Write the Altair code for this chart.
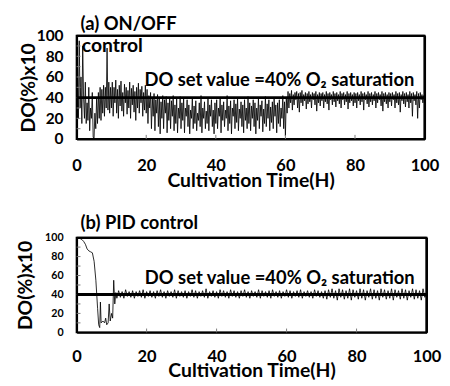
import altair as alt
import pandas as pd

# ---- Panel (a): ON/OFF control, DO readings every 0.25 h from 0 to 100 h ----
a_step = 0.25
a_values = [
    # 0-10 h
    40, 70, 20, 95, 30, 60, 15, 90, 40, 20, 55, 15, 35, 18, 50, 8, 30, 20, 45, 2,
    0, 25, 10, 40, 15, 45, 20, 50, 18, 48, 25, 52, 22, 50, 30, 88, 28, 55, 25, 50,
    # 10-20 h
    30, 55, 22, 50, 35, 57, 25, 48, 20, 52, 32, 56, 27, 45, 22, 53, 35, 50, 24, 47,
    30, 55, 20, 49, 33, 52, 26, 46, 18, 50, 30, 54, 25, 48, 35, 51, 22, 45, 28, 52,
    # 20-30 h
    25, 48, 15, 42, 30, 45, 10, 40, 22, 44, 8, 38, 25, 43, 12, 40, 5, 36, 20, 42,
    10, 38, 25, 41, 6, 35, 18, 40, 10, 37, 22, 42, 8, 33, 15, 39, 6, 30, 20, 41,
    # 30-40 h
    10, 35, 18, 40, 6, 30, 22, 38, 12, 33, 5, 28, 20, 40, 10, 32, 15, 37, 8, 25,
    18, 35, 12, 42, 6, 30, 20, 36, 10, 27, 15, 39, 8, 33, 22, 38, 12, 28, 5, 35,
    # 40-50 h
    15, 38, 10, 30, 22, 40, 6, 33, 18, 36, 12, 28, 20, 42, 8, 32, 15, 37, 5, 30,
    22, 38, 10, 34, 16, 40, 8, 29, 20, 36, 12, 33, 6, 38, 18, 30, 10, 41, 15, 35,
    # 50-60 h
    8, 32, 20, 38, 12, 35, 5, 30, 18, 40, 10, 33, 22, 37, 7, 29, 15, 41, 12, 34,
    20, 38, 8, 31, 16, 36, 10, 40, 22, 33, 6, 35, 15, 38, 12, 30, 20, 42, 10, 36,
    # 60-70 h
    3, 40, 25, 46, 30, 44, 35, 47, 28, 43, 33, 45, 38, 46, 30, 44, 26, 45, 35, 47,
    32, 43, 37, 45, 29, 44, 34, 46, 36, 43, 30, 45, 38, 44, 33, 46, 27, 43, 35, 45,
    # 70-80 h
    32, 44, 37, 45, 30, 43, 36, 46, 34, 44, 28, 45, 38, 43, 33, 46, 36, 44, 31, 45,
    37, 43, 34, 46, 30, 44, 38, 45, 33, 43, 36, 46, 29, 44, 35, 45, 37, 43, 32, 45,
    # 80-90 h
    35, 44, 30, 45, 37, 43, 33, 46, 36, 44, 28, 45, 38, 43, 34, 46, 31, 44, 36, 45,
    33, 43, 37, 46, 30, 44, 35, 45, 38, 43, 32, 46, 27, 44, 36, 45, 34, 43, 30, 45,
    # 90-100 h
    36, 44, 32, 45, 38, 43, 30, 46, 35, 44, 33, 45, 26, 43, 37, 46, 34, 44, 31, 45,
    36, 43, 30, 46, 35, 44, 22, 45, 37, 43, 33, 46, 20, 44, 30, 45, 38, 43, 35, 42,
    40,
]

# ---- Panel (b): PID control ----
b_early_t = [0, 0.5, 1, 1.5, 2, 2.5, 3, 3.5, 4, 4.5, 5, 5.5, 6, 6.3, 6.6, 6.8, 7.0,
             7.5, 8, 8.3, 8.6, 9, 9.3, 9.6, 10, 10.3, 10.6, 10.9, 11.2]
b_early_v = [100, 99.5, 99, 98, 96, 93, 88, 86, 85, 84, 75, 55, 25, 8, 5, 32, 10,
             12, 10, 15, 8, 10, 30, 12, 20, 15, 55, 30, 42]
b_late_start = 11.5
b_late_v = [
    # 11.5-21.5 h
    36, 44, 37, 43, 36, 45, 38, 43, 37, 44, 36, 43, 38, 44, 37, 45, 36, 43, 38, 44,
    # 21.5-31.5 h
    37, 43, 36, 44, 38, 45, 37, 43, 36, 44, 38, 43, 37, 45, 36, 44, 38, 43, 37, 44,
    # 31.5-41.5 h
    36, 43, 38, 45, 37, 44, 36, 43, 38, 44, 37, 46, 36, 43, 38, 44, 37, 43, 36, 45,
    # 41.5-51.5 h
    38, 44, 37, 43, 36, 45, 38, 44, 37, 43, 36, 44, 38, 45, 37, 43, 36, 44, 38, 43,
    # 51.5-61.5 h
    37, 45, 36, 44, 38, 43, 37, 44, 36, 45, 38, 43, 37, 44, 36, 43, 38, 45, 37, 44,
    # 61.5-71.5 h
    36, 43, 38, 44, 37, 45, 36, 43, 38, 44, 37, 43, 36, 45, 38, 44, 37, 43, 36, 44,
    # 71.5-81.5 h
    35, 45, 37, 46, 36, 44, 34, 46, 37, 45, 35, 44, 36, 46, 34, 45, 37, 44, 35, 46,
    # 81.5-91.5 h
    36, 45, 34, 44, 37, 46, 35, 45, 36, 44, 34, 46, 37, 45, 35, 44, 36, 46, 34, 45,
    # 91.5-100 h
    37, 44, 35, 46, 36, 45, 34, 44, 37, 46, 35, 45, 36, 44, 34, 46, 37, 41,
]

set_value = 40
x_ticks = [0, 20, 40, 60, 80, 100]
y_ticks = [0, 20, 40, 60, 80, 100]
minor_y = [10, 20, 30, 40, 50, 60, 70, 80, 90]
minor_x = [20, 40, 60, 80]
frame_lo, frame_hi = 0, 100
tick_len_t = 1.1   # inner tick length, in hours
tick_len_v = 4     # inner tick length, in DO units
annot = "DO set value =40% O\u2082 saturation"

FONT = "Lato"

df_a = pd.DataFrame({"t": [i * a_step for i in range(len(a_values))], "v": a_values})
b_t = b_early_t + [b_late_start + i * 0.5 for i in range(len(b_late_v))]
df_b = pd.DataFrame({"t": b_t, "v": b_early_v + b_late_v})


def edge_axis(orient):
    return alt.Axis(orient=orient, labels=False, ticks=False, grid=False, title=None,
                    domain=True, domainColor="black", domainWidth=2)


def panel(df, title, w, h, ytick_size, ytitle_size, ylab_pad, ytitle_pad,
          xlab_pad, xtitle_pad, text_y, ctrl_label, title_off):
    xs = alt.Scale(domain=[0, 100], nice=False, zero=False)
    ys = alt.Scale(domain=[0, 100], nice=False)
    xax = alt.Axis(values=x_ticks, title="Cultivation Time(H)", grid=False, ticks=False,
                   domain=True, domainColor="black", domainWidth=2,
                   labelFontSize=17, labelFont=FONT, labelFontWeight="bold",
                   labelColor="black", titleFontSize=20, titleFont=FONT,
                   titleFontWeight="bold", titleColor="black", labelPadding=xlab_pad,
                   titlePadding=xtitle_pad, labelFlush=False, labelOverlap=False)
    yax = alt.Axis(values=y_ticks, title="DO(%)x10", grid=False, ticks=False,
                   domain=True, domainColor="black", domainWidth=2,
                   labelFontSize=ytick_size, labelFont=FONT,
                   labelFontWeight="bold", labelColor="black", labelOverlap=False,
                   labelFlush=False, titleFontSize=ytitle_size, titleFont=FONT,
                   titleFontWeight="bold", titleColor="black", labelPadding=ylab_pad,
                   titlePadding=ytitle_pad)
    X0 = lambda f: alt.X(f, scale=xs, axis=None)
    Y0 = lambda f: alt.Y(f, scale=ys, axis=None)
    line = alt.Chart(df).mark_line(color="black", strokeWidth=0.85).encode(
        x=alt.X("t:Q", scale=xs, axis=xax), y=alt.Y("v:Q", scale=ys, axis=yax))
    yt = alt.Chart(pd.DataFrame({"y": minor_y, "a": frame_lo, "b": frame_lo + tick_len_t})
                   ).mark_rule(color="#777", strokeWidth=1).encode(
        y=Y0("y:Q"), x=X0("a:Q"), x2="b:Q")
    xt = alt.Chart(pd.DataFrame({"x": minor_x, "a": frame_lo, "b": frame_lo + tick_len_v})
                   ).mark_rule(color="#777", strokeWidth=1).encode(
        x=X0("x:Q"), y=Y0("a:Q"), y2="b:Q")
    rule = alt.Chart(pd.DataFrame({"y": [set_value]})).mark_rule(
        color="black", strokeWidth=3).encode(y=Y0("y:Q"))
    # top and right edges of the plot box, drawn as axis domains
    vframe = alt.Chart(pd.DataFrame({"x": [frame_hi]})).mark_rule(
        color="black", strokeWidth=2).encode(x=alt.X("x:Q", scale=xs, axis=edge_axis("top")))
    hframe = alt.Chart(pd.DataFrame({"y": [frame_hi]})).mark_rule(
        color="black", strokeWidth=2).encode(y=alt.Y("y:Q", scale=ys, axis=edge_axis("right")))
    txt = alt.Chart(pd.DataFrame({"t": [19.5], "y": [text_y], "s": [annot]})).mark_text(
        align="left", baseline="middle", font=FONT, fontWeight="bold", fontSize=19,
        color="black").encode(x=X0("t:Q"), y=Y0("y:Q"), text="s:N")
    layers = [line, yt, xt, rule, vframe, hframe, txt]
    if ctrl_label:
        ctl = alt.Chart(pd.DataFrame({"t": [1.5], "y": [90], "s": [ctrl_label]})).mark_text(
            align="left", baseline="middle", font=FONT, fontWeight="bold", fontSize=20,
            color="black").encode(x=X0("t:Q"), y=Y0("y:Q"), text="s:N")
        layers.append(ctl)
    return alt.layer(*layers).resolve_axis(x="independent", y="independent").properties(
        width=w, height=h,
        title=alt.TitleParams(title, anchor="start", frame="group", font=FONT,
                              fontSize=19, fontWeight="bold", color="black",
                              offset=title_off, dx=4),
    )


pa = panel(df_a, "(a) ON/OFF", 360, 107, 16, 20, 14, -2, 20, -3, 57, "control", -6)
pb = panel(df_b, "(b) PID control", 362, 98, 11, 20, 14, 10, 17, -3, 57, None, -1)

chart = alt.vconcat(pa, pb, spacing=23).properties(
    padding={"left": 6, "top": 0, "right": 0, "bottom": 0}
).configure(
    background="white",
    view=alt.ViewConfig(stroke="black", strokeWidth=2),
)

chart.save("out.html", embed_options={"renderer": "svg", "actions": False})
